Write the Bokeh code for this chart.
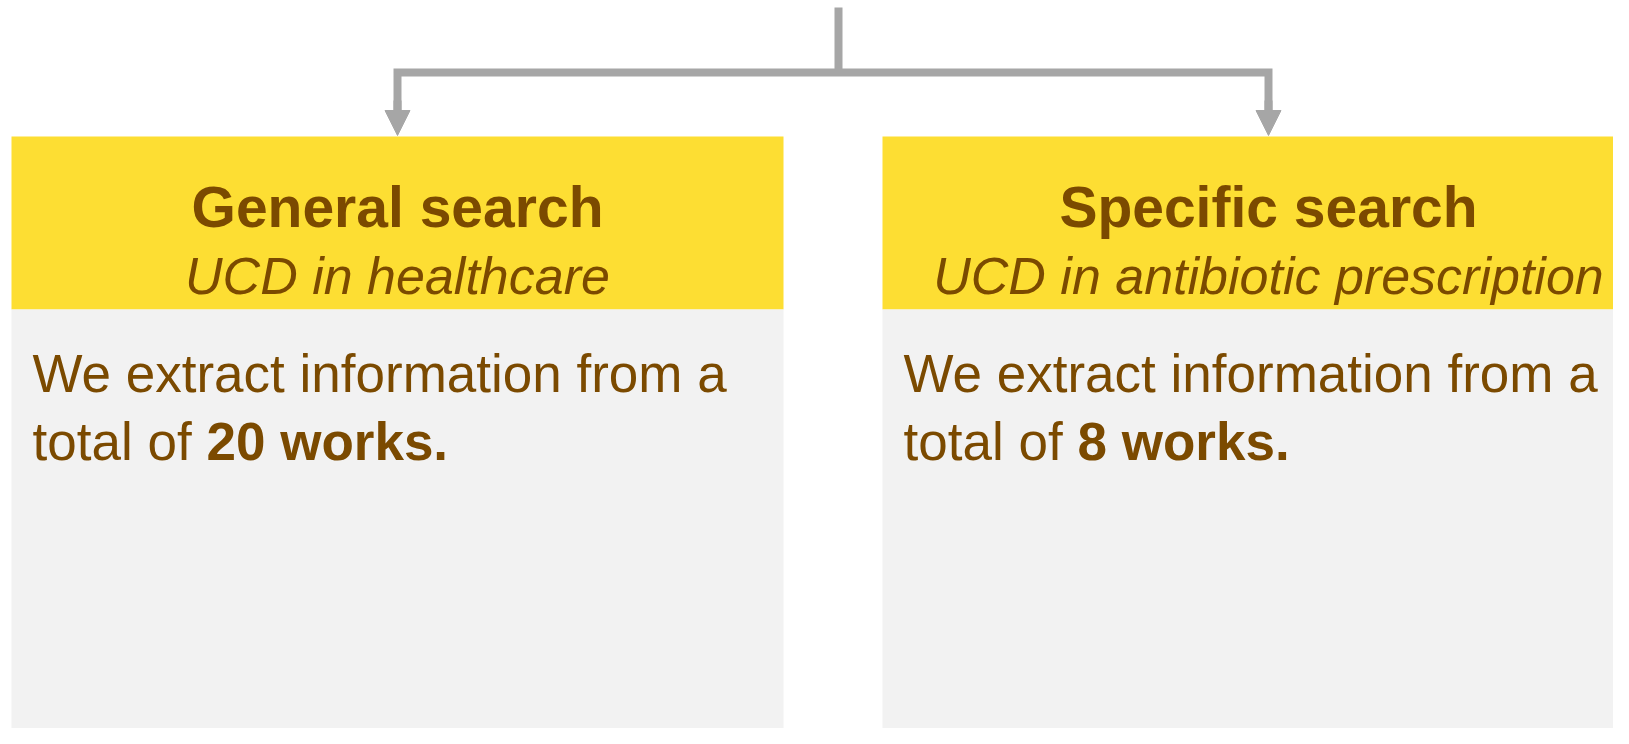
from bokeh.plotting import figure
from bokeh.models import Range1d, ColumnDataSource, Arrow, NormalHead
from bokeh.core.properties import value
from bokeh.embed import file_html
from bokeh.resources import INLINE

# ---- content -------------------------------------------------------------
searches = ["General search", "Specific search"]
scopes = ["UCD in healthcare", "UCD in antibiotic prescription"]
works = [20, 8]
intro_line = "We extract information from a"
lead_in = "total of "

# ---- style ---------------------------------------------------------------
YELLOW = "#FDDE33"
BODY = "#F2F2F2"
BROWN = "#7B4A00"
GREY = "#A6A6A6"
FONT = "Liberation Sans"

W, H = 1613, 728
p = figure(width=W, height=H,
           x_range=Range1d(0, W), y_range=Range1d(H, 0),
           output_backend="svg", toolbar_location=None,
           x_axis_location=None, y_axis_location=None,
           min_border=0, outline_line_color=None)
p.grid.visible = False
p.background_fill_color = "white"
p.border_fill_color = "white"

# ---- layout --------------------------------------------------------------
box_left = [11, 882]
box_w = 772
pad = 21
lead_w = 174
centers = [l + box_w / 2 for l in box_left]
head_top, head_bot, body_bot = 136, 309, 760

src = ColumnDataSource(dict(
    left=box_left,
    right=[l + box_w for l in box_left],
    cx=centers,
    title=searches,
    scope=scopes,
    tx=[l + pad for l in box_left],
    bx=[l + pad + lead_w for l in box_left],
    intro=[intro_line] * len(searches),
    lead=[lead_in] * len(searches),
    bold=[f"{n} works." for n in works],
))

p.quad(left="left", right="right", top=head_top, bottom=head_bot, source=src,
       fill_color=YELLOW, line_color=None)
p.quad(left="left", right="right", top=head_bot, bottom=body_bot, source=src,
       fill_color=BODY, line_color=None)

common = dict(source=src, text_font=value(FONT), text_color=BROWN,
              text_baseline="alphabetic")
p.text(x="cx", y=206.5, text="title", text_font_style="bold",
       text_font_size="57px", text_align="center", **common)
p.text(x="cx", y=275, text="scope", text_font_style="italic",
       text_font_size="52px", text_align="center", **common)
p.text(x="tx", y=373.3, text="intro", text_font_size="53px",
       text_align="left", **common)
p.text(x="tx", y=441, text="lead", text_font_size="53px",
       text_align="left", **common)
p.text(x="bx", y=441, text="bold", text_font_style="bold",
       text_font_size="53px", text_align="left", **common)

# ---- connectors ----------------------------------------------------------
trunk_x = 838
bar_y = 72
p.segment(x0=trunk_x, y0=7, x1=trunk_x, y1=bar_y, line_width=8,
          line_color=GREY, line_cap="butt")
p.line(x=[centers[0], centers[0], centers[1], centers[1]],
       y=[112, bar_y, bar_y, 112], line_width=8, line_color=GREY,
       line_join="miter")
for c in centers:
    p.add_layout(Arrow(end=NormalHead(size=25, fill_color=GREY,
                                      line_color=GREY, line_width=1),
                       x_start=c, y_start=100, x_end=c, y_end=135,
                       line_color=GREY, line_width=8))

open("out.html", "w").write(file_html(p, INLINE))
